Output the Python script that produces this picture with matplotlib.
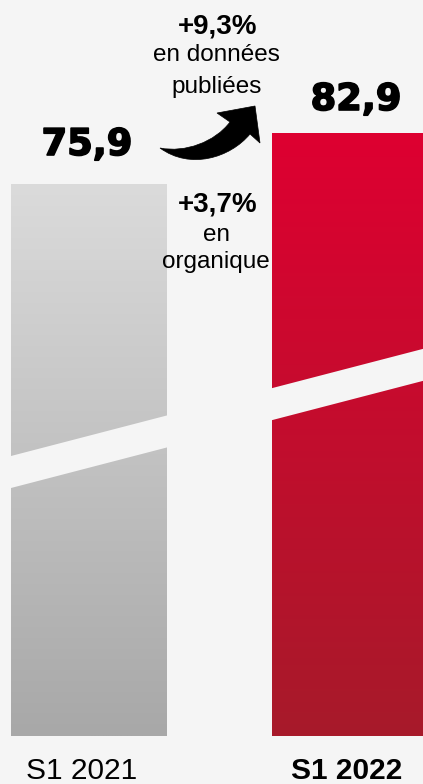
import matplotlib
matplotlib.use("Agg")
import matplotlib.pyplot as plt
import numpy as np
from matplotlib.path import Path
from matplotlib.patches import PathPatch, Polygon
from matplotlib.colors import LinearSegmentedColormap
import matplotlib.patheffects as pe

# ---- data ----
categories = ["S1 2021", "S1 2022"]
values = [75.9, 82.9]
value_labels = ["75,9", "82,9"]
growth_published = "+9,3%"
growth_published_txt = ["en données", "publiées"]
growth_organic = "+3,7%"
growth_organic_txt = ["en", "organique"]
top_colors = ["#dbdbdb", "#de0031"]
bottom_colors = ["#a8a8a8", "#a71a2a"]

BG = "#f5f5f5"
W, H = 423, 784
fig = plt.figure(figsize=(W / 100, H / 100), dpi=100, facecolor=BG)

# main axes for bars (y=0 at 736 px from top)
ax = fig.add_axes([0, 0, 1, 1])
ax.set_facecolor(BG)
px_per_unit = 552 / 75.9
ax.axis("off")

x = np.arange(len(categories))
bars = ax.bar(x, values, width=155 / 261, color=bottom_colors, zorder=2)
for b, tc, bc in zip(bars, top_colors, bottom_colors):
    cmap = LinearSegmentedColormap.from_list("g", [bc, tc])
    grad = np.linspace(0, 1, 256).reshape(-1, 1)
    x0, w = b.get_x(), b.get_width()
    im = ax.imshow(grad, cmap=cmap, aspect="auto", origin="lower",
                   extent=[x0, x0 + w, 0, b.get_height()], zorder=3)
    im.set_clip_path(b)
ax.set_xlim(-88.5 / 261, (W - 88.5) / 261)
ax.set_ylim(-48 / px_per_unit, (H - 48) / px_per_unit)

# overlay axes in pixel coords
ov = fig.add_axes([0, 0, 1, 1], zorder=5)
ov.set_xlim(0, W)
ov.set_ylim(H, 0)
ov.axis("off")
ov.patch.set_alpha(0)

# slanted break band
slope = -0.26
def yline(xx, y0):
    return y0 + slope * (xx - 11)
band = Polygon([(0, yline(0, 456)), (W, yline(W, 456)),
                (W, yline(W, 488)), (0, yline(0, 488))],
               closed=True, facecolor=BG, edgecolor="none")
ov.add_patch(band)

# curved arrow
verts = [(160, 148), (185, 153), (215, 142), (230, 122),
         (217, 113), (255, 106), (260, 143), (250, 134),
         (230, 158), (190, 170), (160, 148), (160, 148)]
codes = [Path.MOVETO, Path.CURVE4, Path.CURVE4, Path.CURVE4,
         Path.LINETO, Path.LINETO, Path.LINETO, Path.LINETO,
         Path.CURVE4, Path.CURVE4, Path.CURVE4, Path.CLOSEPOLY]
ov.add_patch(PathPatch(Path(verts, codes), facecolor="black", edgecolor="black", lw=0.5))

# value labels
heavy = [pe.withStroke(linewidth=1.2, foreground="black")]
label_pos = [(87, 155), (356, 110)]
for (lx, ly), t in zip(label_pos, value_labels):
    ov.text(lx, ly, t, ha="center", va="baseline", fontsize=26.5,
            fontweight="bold", family="DejaVu Sans", color="black", path_effects=heavy)

# growth annotations
ov.text(218, 33, growth_published, ha="center", va="baseline", fontsize=20,
        fontweight="bold", family="Liberation Sans")
ov.text(216, 61, growth_published_txt[0], ha="center", va="baseline", fontsize=17.5,
        family="Liberation Sans")
ov.text(217, 93, growth_published_txt[1], ha="center", va="baseline", fontsize=17.5,
        family="Liberation Sans")
ov.text(218, 211, growth_organic, ha="center", va="baseline", fontsize=20,
        fontweight="bold", family="Liberation Sans")
ov.text(217, 241, growth_organic_txt[0], ha="center", va="baseline", fontsize=17.5,
        family="Liberation Sans")
ov.text(216, 268, growth_organic_txt[1], ha="center", va="baseline", fontsize=17.5,
        family="Liberation Sans")

# category labels
cat_x = [82, 347]
for i, (cx, c) in enumerate(zip(cat_x, categories)):
    ov.text(cx, 779, c, ha="center", va="baseline", fontsize=21.5,
            fontweight="bold" if i == 1 else "normal", family="Liberation Sans")

fig.savefig("out.png", dpi=100, facecolor=BG)
